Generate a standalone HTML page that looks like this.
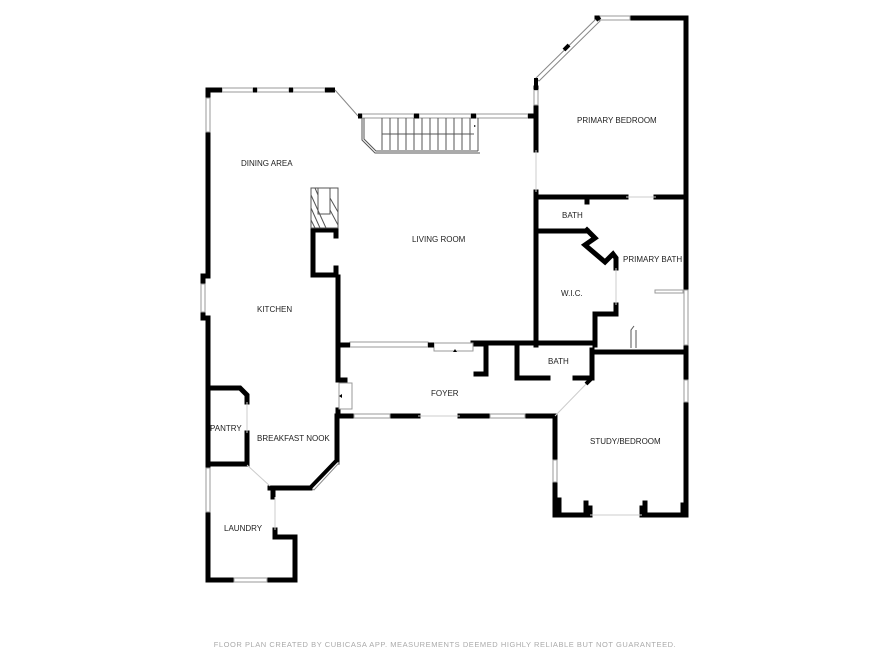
<!DOCTYPE html>
<html><head><style>
html,body{margin:0;padding:0;background:#fff;width:890px;height:667px;overflow:hidden}
svg{display:block}
text{font-family:"Liberation Sans",sans-serif;font-size:8px;fill:#222}
</style></head><body>
<svg width="890" height="667" viewBox="0 0 890 667" xmlns="http://www.w3.org/2000/svg">
<g fill="none" stroke="#000" stroke-width="5" stroke-linecap="square">
<polyline points="222,90 208,90 208,98"/>
<line x1="208" y1="132" x2="208" y2="276"/>
<polyline points="208,276 203,276 203,284"/>
<polyline points="203,312 203,318 208,318 208,468"/>
<polyline points="208,512 208,580 234,580"/>
<polyline points="267,580 295,580 295,537 275,537 275,530"/>
<line x1="273" y1="488" x2="273" y2="497"/>
<polyline points="270,488 310,488"/>
<polyline points="337,462 337,416 418,416"/>
<polyline points="460,416 555,416 555,460"/>
<polyline points="555,482 555,515 562,515"/>
<polyline points="560,515 590,515 590,508"/>
<polyline points="642,508 642,515 686,515 686,18 630,18"/>
<line x1="597" y1="18" x2="600" y2="18"/>
<polyline points="536,88 536,150"/>
<line x1="536" y1="192" x2="536" y2="345"/>
<polyline points="536,197 626,197"/>
<line x1="656" y1="197" x2="686" y2="197"/>
<polyline points="536,231 587,231"/>
<line x1="587" y1="197" x2="587" y2="202"/>
<polyline points="587,230 595,238 585,245 605,262 613,254 616,258 616,268"/>
<polyline points="616,305 616,314 595,314 595,345"/>
<polyline points="473,343 592,343"/>
<polyline points="592,352 686,352"/>
<polyline points="517,344 517,378 548,378"/>
<line x1="575" y1="378" x2="592" y2="378"/>
<line x1="592" y1="350" x2="592" y2="378"/>
<polyline points="476,344 486,344 486,374 476,374"/>
<polyline points="338,277 338,350"/>
<polyline points="338,350 338,380 345,380"/>
<polyline points="338,410 338,416"/>
<polyline points="313,230 336,230 336,236"/>
<polyline points="313,230 313,275 336,275 336,268"/>
<polyline points="208,388 240,388 247,395 247,402"/>
<polyline points="247,433 247,464 208,464"/>
<line x1="559" y1="500" x2="559" y2="515"/>
<line x1="586" y1="503" x2="586" y2="515"/>
<line x1="645" y1="503" x2="645" y2="515"/>
<line x1="683" y1="505" x2="683" y2="515"/>
</g>
<g fill="#fff" stroke="#999" stroke-width="1">
<rect x="222" y="88" width="31" height="4"/><rect x="257" y="88" width="32" height="4"/><rect x="293" y="88" width="32" height="4"/>
<rect x="362" y="114" width="52" height="4"/><rect x="419" y="114" width="52" height="4"/><rect x="476" y="114" width="52" height="4"/>
<rect x="206" y="98" width="4" height="34"/><rect x="201" y="284" width="4" height="28"/><rect x="206" y="468" width="4" height="44"/>
<rect x="234" y="578" width="33" height="4"/>
<rect x="354" y="414" width="36" height="4"/><rect x="490" y="414" width="35" height="4"/>
<rect x="553" y="460" width="4" height="22"/>
<rect x="600" y="16" width="30" height="4"/>
<rect x="534" y="90" width="4" height="15"/>
<rect x="684" y="290" width="4" height="55"/><rect x="684" y="380" width="4" height="22"/>
<rect x="350" y="342" width="78" height="5"/>
<rect x="434" y="343" width="39" height="8"/>
<rect x="339" y="383" width="13" height="26"/>
<rect x="655" y="290" width="28" height="3"/>
</g>
<g stroke="#000" stroke-width="5" fill="none">
<polyline points="208,90 222,90"/><line x1="253" y1="90" x2="257" y2="90"/><line x1="289" y1="90" x2="293" y2="90"/><line x1="325" y1="90" x2="335" y2="90"/>
<line x1="358" y1="116" x2="362" y2="116"/><line x1="414" y1="116" x2="419" y2="116"/><line x1="471" y1="116" x2="476" y2="116"/><line x1="528" y1="116" x2="536" y2="116"/>
<line x1="338" y1="345" x2="350" y2="345"/><line x1="428" y1="345" x2="434" y2="345"/>
</g>
<g stroke="#888" stroke-width="1" fill="none">
<line x1="335" y1="90" x2="358" y2="116"/>
<polygon points="536,78 597,18 600,21 539,81" fill="#fff"/>
<polygon points="310,487 335,460 339,463 314,490" fill="#fff"/>
<line x1="247" y1="402" x2="247" y2="433" stroke="#ccc"/>
<line x1="247" y1="465" x2="270" y2="486" stroke="#ccc"/>
<line x1="555" y1="416" x2="590" y2="380" stroke="#ccc"/>
<line x1="275" y1="497" x2="275" y2="530" stroke="#ccc"/>
<line x1="590" y1="515" x2="642" y2="515" stroke="#ccc"/>
<line x1="536" y1="150" x2="536" y2="192" stroke="#ccc"/>
<line x1="626" y1="197" x2="656" y2="197" stroke="#ccc"/>
<line x1="418" y1="416" x2="460" y2="416" stroke="#ccc"/>
<line x1="616" y1="268" x2="616" y2="305" stroke="#ccc"/>
</g>
<g stroke="#000" stroke-width="4">
<line x1="536" y1="78" x2="536" y2="90"/>
<line x1="310" y1="488" x2="337" y2="460"/>
<line x1="586" y1="384" x2="592" y2="378"/>
<line x1="564" y1="50" x2="569" y2="45"/>
<line x1="596" y1="20" x2="600" y2="17"/>
</g>
<g stroke="#555" stroke-width="1" fill="none">
<polyline points="362,118 362,140 375,153 480,153"/>
<polyline points="364,118 364,139 376,151 478,151"/>
<line x1="382" y1="118" x2="382" y2="150"/>
<line x1="390" y1="118" x2="390" y2="150"/><line x1="398" y1="118" x2="398" y2="150"/><line x1="406" y1="118" x2="406" y2="150"/><line x1="414" y1="118" x2="414" y2="150"/><line x1="422" y1="118" x2="422" y2="150"/><line x1="430" y1="118" x2="430" y2="150"/><line x1="438" y1="118" x2="438" y2="150"/><line x1="446" y1="118" x2="446" y2="150"/><line x1="454" y1="118" x2="454" y2="150"/><line x1="462" y1="118" x2="462" y2="150"/><line x1="470" y1="118" x2="470" y2="150"/>
<line x1="382" y1="134" x2="474" y2="134"/>
<line x1="478" y1="118" x2="478" y2="151"/>
<rect x="311" y="188" width="27" height="40"/>
<rect x="318" y="188" width="12" height="26"/>
<path d="M311,195 L326,228 M311,208 L320,228 M311,220 L315,228 M330,198 L338,212 M330,210 L338,225 M315,188 L318,195"/>
<path d="M631,348 L631,330 L634,326 M636,348 L636,330"/>
</g>
<path d="M455,349 L453,352 L457,352 Z M339,396 L342,394 L342,398 Z M474,125 L476,126 L474,127 Z" fill="#000"/>
<text x="241" y="166">DINING AREA</text>
<text x="412" y="242">LIVING ROOM</text>
<text x="577" y="123">PRIMARY BEDROOM</text>
<text x="562" y="218">BATH</text>
<text x="623" y="262">PRIMARY BATH</text>
<text x="561" y="296">W.I.C.</text>
<text x="257" y="312">KITCHEN</text>
<text x="548" y="364">BATH</text>
<text x="431" y="396">FOYER</text>
<text x="210" y="431">PANTRY</text>
<text x="257" y="441">BREAKFAST NOOK</text>
<text x="590" y="444">STUDY/BEDROOM</text>
<text x="224" y="531">LAUNDRY</text>
<text x="445" y="647" text-anchor="middle" style="font-size:7.5px;fill:#aaa;letter-spacing:0.55px">FLOOR PLAN CREATED BY CUBICASA APP. MEASUREMENTS DEEMED HIGHLY RELIABLE BUT NOT GUARANTEED.</text>
</svg>
</body></html>
